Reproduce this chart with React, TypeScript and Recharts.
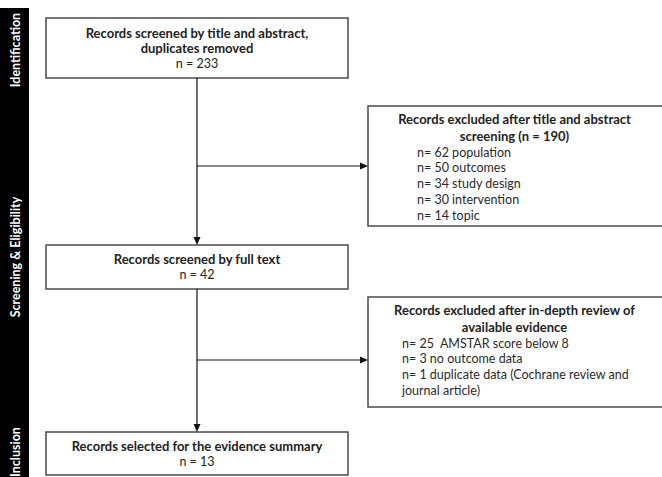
import React from "react";
import { ScatterChart, Scatter, XAxis, YAxis, ReferenceArea, ReferenceLine } from "recharts";

// flow diagram content
const stageLabels = ["Identification", "Screening & Eligibility", "Inclusion"];
const mainTitles = [
  "Records screened by title and abstract,\nduplicates removed",
  "Records screened by full text",
  "Records selected for the evidence summary",
];
const mainCounts = [233, 42, 13];
const excludedTitles = [
  "Records excluded after title and abstract\nscreening (n = 190)",
  "Records excluded after in-depth review of\navailable evidence",
];
const abstractCounts = [62, 50, 34, 30, 14];
const abstractReasons = ["population", "outcomes", "study design", "intervention", "topic"];
const fullTextCounts = [25, 3, 1];
const fullTextReasons = [
  " AMSTAR score below 8",
  "no outcome data",
  "duplicate data (Cochrane review and\njournal article)",
];

// layout (chart units == pixels)
const W = 662;
const H = 477;
const FONT = "Lato, 'Open Sans', sans-serif";
const MAIN_X = [46, 348];
const MAIN_Y = [
  [18, 78],
  [245, 289],
  [432, 475],
];
const EXCL_X = [368, 666];
const EXCL_Y = [
  [106, 226],
  [297, 407],
];
const EXCL_LIST_X = [417, 402];
const STAGE_Y = [50, 257, 452];
const SPINE_X = 197;
const BRANCH_Y = [166, 360];

const exclusionLists = [
  abstractCounts.map((c, i) => `n= ${c} ${abstractReasons[i]}`),
  fullTextCounts.map((c, i) => `n= ${c} ${fullTextReasons[i]}`),
];

const Arrow = (props: any) => {
  const { x1, y1, x2, y2 } = props;
  const len = Math.hypot(x2 - x1, y2 - y1) || 1;
  const ux = (x2 - x1) / len;
  const uy = (y2 - y1) / len;
  const hl = 8;
  const hw = 3.5;
  const bx = x2 - ux * hl;
  const by = y2 - uy * hl;
  return (
    <g>
      <line x1={x1} y1={y1} x2={bx + ux} y2={by + uy} stroke="#111" strokeWidth={1.2} />
      <polygon
        points={`${x2},${y2} ${bx - uy * hw},${by + ux * hw} ${bx + uy * hw},${by - ux * hw}`}
        fill="#111"
      />
    </g>
  );
};

const MainBox = (lines: string[], count: number) => (props: any) => {
  const { x, y, width, height } = props;
  const all = [...lines, `n = ${count}`];
  const lh = 15.5;
  const top = y + height / 2 - ((all.length - 1) * lh) / 2;
  return (
    <g>
      <rect x={x} y={y} width={width} height={height} fill="#fff" stroke="#4a4a4a" strokeWidth={1.5} />
      {all.map((t, i) => (
        <text
          key={i}
          x={x + width / 2}
          y={top + i * lh}
          textAnchor="middle"
          dominantBaseline="central"
          fontFamily={FONT}
          fontSize={i < lines.length ? 13 : 12.5}
          fontWeight={i < lines.length ? 700 : 400}
          fill="#222"
        >
          {t}
        </text>
      ))}
    </g>
  );
};

const ExclBox = (title: string[], list: string[], listX: number) => (props: any) => {
  const { x, y, width, height } = props;
  const rows = list.flatMap((t) => t.split("\n"));
  const headLh = 17;
  const listLh = 15.8;
  const head0 = y + 13;
  const list0 = head0 + title.length * headLh - 1;
  const cx = (x + 661) / 2;
  return (
    <g>
      <rect x={x} y={y} width={width} height={height} fill="#fff" stroke="#4a4a4a" strokeWidth={1.5} />
      {title.map((t, i) => (
        <text
          key={"h" + i}
          x={cx}
          y={head0 + i * headLh}
          textAnchor="middle"
          dominantBaseline="central"
          fontFamily={FONT}
          fontSize={13}
          fontWeight={700}
          fill="#222"
        >
          {t}
        </text>
      ))}
      {rows.map((t, i) => (
        <text
          key={"r" + i}
          x={listX}
          y={list0 + i * listLh}
          dominantBaseline="central"
          fontFamily={FONT}
          fontSize={12.5}
          fill="#2a2a2a"
          style={{ whiteSpace: "pre" }}
        >
          {t}
        </text>
      ))}
    </g>
  );
};

const Sidebar = (props: any) => {
  const { x, y, width, height } = props;
  const cx = x + width / 2 + 1;
  return (
    <g>
      <rect x={x} y={y} width={width} height={height} fill="#000" />
      {stageLabels.map((s, i) => (
        <text
          key={s}
          x={cx}
          y={STAGE_Y[i]}
          transform={`rotate(-90 ${cx} ${STAGE_Y[i]})`}
          textAnchor="middle"
          dominantBaseline="central"
          fontFamily={FONT}
          fontSize={12.5}
          fontWeight={700}
          fill="#fff"
        >
          {s}
        </text>
      ))}
    </g>
  );
};

const nodes = mainCounts.map((c, i) => ({ x: SPINE_X, y: (MAIN_Y[i][0] + MAIN_Y[i][1]) / 2, n: c }));

export default function App() {
  return (
    <div style={{ position: "absolute", left: 0, top: 0, width: W, height: H, background: "#fff" }}>
      <ScatterChart width={W} height={H} margin={{ top: 0, right: 0, bottom: 0, left: 0 }}>
        <XAxis type="number" dataKey="x" domain={[0, W]} hide />
        <YAxis type="number" dataKey="y" domain={[0, H]} reversed hide width={0} />
        <ReferenceArea x1={0} x2={29} y1={8} y2={H} ifOverflow="visible" shape={Sidebar} />

        <ReferenceLine segment={[{ x: SPINE_X, y: MAIN_Y[0][1] }, { x: SPINE_X, y: MAIN_Y[1][0] }]} shape={Arrow} />
        <ReferenceLine segment={[{ x: SPINE_X, y: MAIN_Y[1][1] }, { x: SPINE_X, y: MAIN_Y[2][0] }]} shape={Arrow} />
        {BRANCH_Y.map((by, i) => (
          <ReferenceLine
            key={"b" + i}
            segment={[{ x: SPINE_X, y: by }, { x: EXCL_X[0], y: by }]}
            shape={Arrow}
          />
        ))}

        {mainTitles.map((t, i) => (
          <ReferenceArea
            key={"m" + i}
            x1={MAIN_X[0]}
            x2={MAIN_X[1]}
            y1={MAIN_Y[i][0]}
            y2={MAIN_Y[i][1]}
            ifOverflow="visible"
            shape={MainBox(t.split("\n"), mainCounts[i])}
          />
        ))}
        {excludedTitles.map((t, i) => (
          <ReferenceArea
            key={"e" + i}
            x1={EXCL_X[0]}
            x2={EXCL_X[1]}
            y1={EXCL_Y[i][0]}
            y2={EXCL_Y[i][1]}
            ifOverflow="visible"
            shape={ExclBox(t.split("\n"), exclusionLists[i], EXCL_LIST_X[i])}
          />
        ))}
        <Scatter data={nodes} fill="none" shape={() => <g />} isAnimationActive={false} />
      </ScatterChart>
    </div>
  );
}
